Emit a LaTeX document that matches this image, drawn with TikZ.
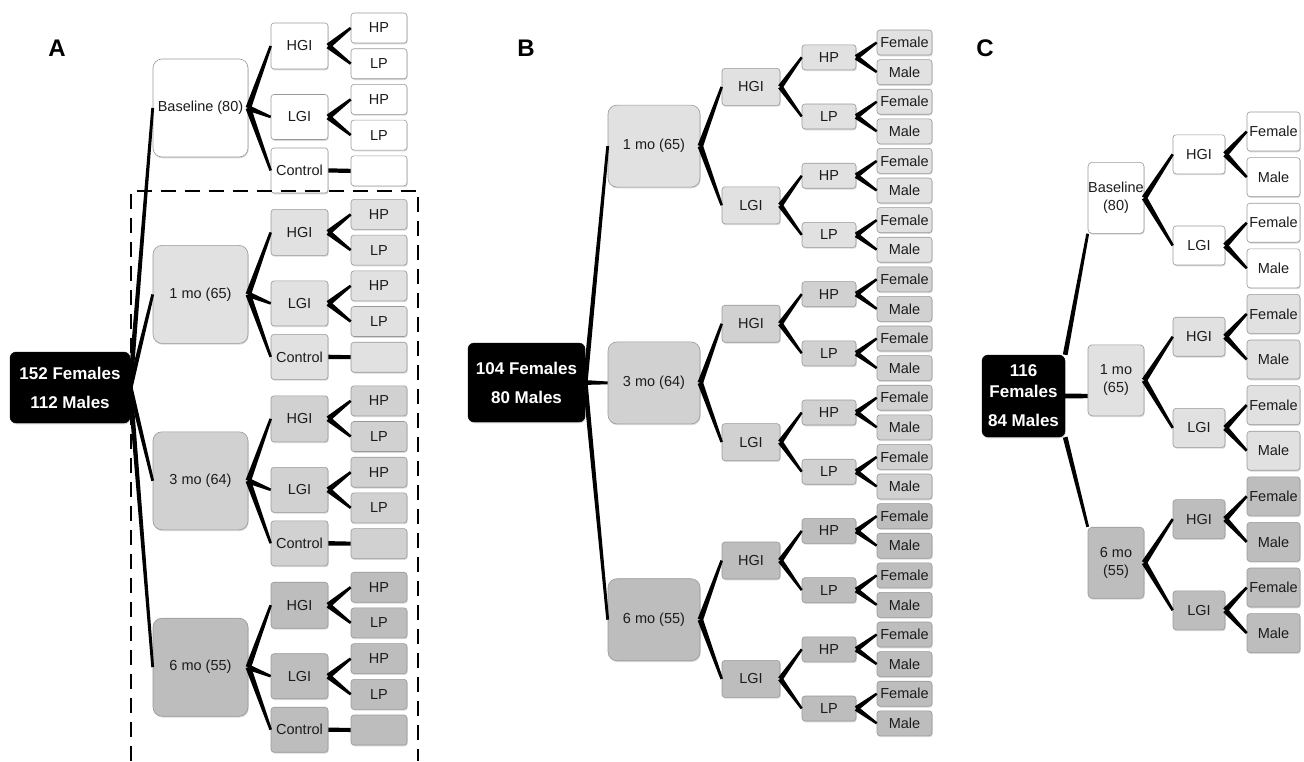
\documentclass[tikz,border=0pt]{standalone}
\usepackage{fontspec}
\setmainfont{Liberation Sans}
\usetikzlibrary{calc,shadows}
\definecolor{grp0}{HTML}{FFFFFF}
\definecolor{grp1}{HTML}{E1E1E1}
\definecolor{grp2}{HTML}{D1D1D1}
\definecolor{grp3}{HTML}{BDBDBD}
\definecolor{edgegray}{HTML}{999999}
\definecolor{txtgray}{HTML}{1C1C1C}
\newcommand\tbranch[4]{\fill[black] ($(#1)!#3!90:(#2)$) -- ($(#1)!#3!-90:(#2)$) -- ($(#2)!#4!90:(#1)$) -- ($(#2)!#4!-90:(#1)$) -- cycle;}
\begin{document}
\begin{tikzpicture}[x=1pt,y=-1pt,
  box/.style={draw=edgegray, line width=0.6pt, rounded corners=3pt, inner sep=0pt, align=center,
    font=\fontsize{14.5}{18}\selectfont, text=txtgray,
    drop shadow={shadow xshift=0.7pt,shadow yshift=-1.3pt,opacity=0.3}},
  bigbox/.style={box, rounded corners=9pt},
  rootbox/.style={fill=black, draw=black, rounded corners=6pt, text=white, inner sep=0pt, align=center,
    font=\bfseries\fontsize{17}{29}\selectfont,
    drop shadow={shadow xshift=0.7pt,shadow yshift=-1.3pt,opacity=0.3}},
  panel/.style={font=\bfseries\fontsize{24}{24}\selectfont}]
\useasboundingbox (0,0) rectangle (1304,761);
\fill[white] (0,0) rectangle (1304,761);

% ---------------- Panel A ----------------
\node[panel] (labA) at (57,48) {A};
\node[rootbox, minimum width=120pt, minimum height=71pt] (aR) at (70,387.5) {152 Females\\112 Males};
\foreach \k/\c/\t in {0/grp0/Baseline (80),1/grp1/1 mo (65),2/grp2/3 mo (64),3/grp3/6 mo (55)} {
  \pgfmathsetmacro\g{13+186.4*\k}
  \node[bigbox, fill=\c, minimum width=95pt, minimum height=98pt] (aB\k) at (200.5,\g+95) {\t};
  \node[box, fill=\c, minimum width=57pt, minimum height=46pt] (aH\k) at (299.5,\g+33) {HGI};
  \node[box, fill=\c, minimum width=57pt, minimum height=45pt] (aL\k) at (299.5,\g+104) {LGI};
  \node[box, fill=\c, minimum width=57pt, minimum height=45pt] (aC\k) at (299.5,\g+157.5) {Control};
  \foreach \j/\lf in {0/HP,1/LP,2/HP,3/LP,4/} {
    \node[box, fill=\c, minimum width=56pt, minimum height=30pt] (aP\k\j) at (379,\g+15+35.7*\j) {\lf};
  }
  \tbranch{aR.east}{aB\k.west}{2.4pt}{1.4pt}
  \tbranch{aB\k.east}{aH\k.west}{2.8pt}{1.3pt}
  \tbranch{aB\k.east}{aL\k.west}{2.8pt}{1.3pt}
  \tbranch{aB\k.east}{aC\k.west}{2.8pt}{1.3pt}
  \tbranch{aH\k.east}{aP\k0.west}{2.8pt}{1.3pt}
  \tbranch{aH\k.east}{aP\k1.west}{2.8pt}{1.3pt}
  \tbranch{aL\k.east}{aP\k2.west}{2.8pt}{1.3pt}
  \tbranch{aL\k.east}{aP\k3.west}{2.8pt}{1.3pt}
  \tbranch{aC\k.east}{aP\k4.west}{2.2pt}{2pt}
}
\draw[line width=2pt, dash pattern=on 15pt off 9pt] (131,761) -- (131,190.5) -- (418,190.5) -- (418,761);

% ---------------- Panel B ----------------
\node[panel] (labB) at (526,48) {B};
\node[rootbox, minimum width=117pt, minimum height=79pt] (bR) at (526.5,382.5) {104 Females\\80 Males};
\foreach \k/\c/\t in {0/grp1/1 mo (65),1/grp2/3 mo (64),2/grp3/6 mo (55)} {
  \node[bigbox, fill=\c, minimum width=92pt, minimum height=82pt] (bB\k) at (654,42.5+29.6*8*\k+29.6*3.5) {\t};
  \tbranch{bR.east}{bB\k.west}{2.4pt}{1.4pt}
  \foreach \m/\mt in {0/HGI,1/LGI} {
    \node[box, fill=\c, minimum width=58pt, minimum height=37pt] (bM\k\m) at (751,42.5+29.6*8*\k+29.6*4*\m+29.6*1.5) {\mt};
    \tbranch{bB\k.east}{bM\k\m.west}{2.8pt}{1.3pt}
    \foreach \s/\st in {0/HP,1/LP} {
      \pgfmathtruncatemacro\jj{2*\m+\s}
      \node[box, fill=\c, minimum width=54pt, minimum height=25pt] (bS\k\jj) at (829,42.5+29.6*8*\k+29.6*2*\jj+29.6*0.5) {\st};
      \tbranch{bM\k\m.east}{bS\k\jj.west}{2.6pt}{1.2pt}
      \foreach \f/\ft in {0/Female,1/Male} {
        \pgfmathtruncatemacro\ii{2*\jj+\f}
        \node[box, fill=\c, minimum width=55pt, minimum height=25pt] (bF\k\ii) at (904.5,42.5+29.6*8*\k+29.6*\ii) {\ft};
        \tbranch{bS\k\jj.east}{bF\k\ii.west}{2.6pt}{1.2pt}
      }
    }
  }
}

% ---------------- Panel C ----------------
\node[panel] (labC) at (985,48) {C};
\node[rootbox, minimum width=83pt, minimum height=82pt, font=\bfseries\fontsize{17}{21}\selectfont] (cR) at (1023.5,396) {116\\Females\\[8pt]84 Males};
\foreach \k/\c/\t in {0/grp0/{Baseline\\(80)},1/grp1/{1 mo\\(65)},2/grp3/{6 mo\\(55)}} {
  \node[bigbox, rounded corners=4pt, fill=\c, minimum width=56pt, minimum height=71pt] (cB\k) at (1116,129.5+45.6*4*\k+45.6*1.5) {\t};
  \foreach \m/\mt in {0/HGI,1/LGI} {
    \node[box, fill=\c, minimum width=52pt, minimum height=39pt] (cM\k\m) at (1199,131.5+45.6*4*\k+45.6*2*\m+45.6*0.5) {\mt};
    \tbranch{cB\k.east}{cM\k\m.west}{2.8pt}{1.3pt}
    \foreach \f/\ft in {0/Female,1/Male} {
      \pgfmathtruncatemacro\ii{2*\m+\f}
      \node[box, fill=\c, minimum width=53pt, minimum height=39pt] (cF\k\ii) at (1273.5,131.5+45.6*4*\k+45.6*\ii) {\ft};
      \tbranch{cM\k\m.east}{cF\k\ii.west}{2.8pt}{1.3pt}
    }
  }
}
\coordinate (c1in) at (cR.east -| cB1.west);
\tbranch{cR.north east}{cB0.south west}{2.4pt}{1.4pt}
\tbranch{cR.east}{c1in}{2.4pt}{2.2pt}
\tbranch{cR.south east}{cB2.north west}{2.4pt}{1.4pt}
\end{tikzpicture}
\end{document}
